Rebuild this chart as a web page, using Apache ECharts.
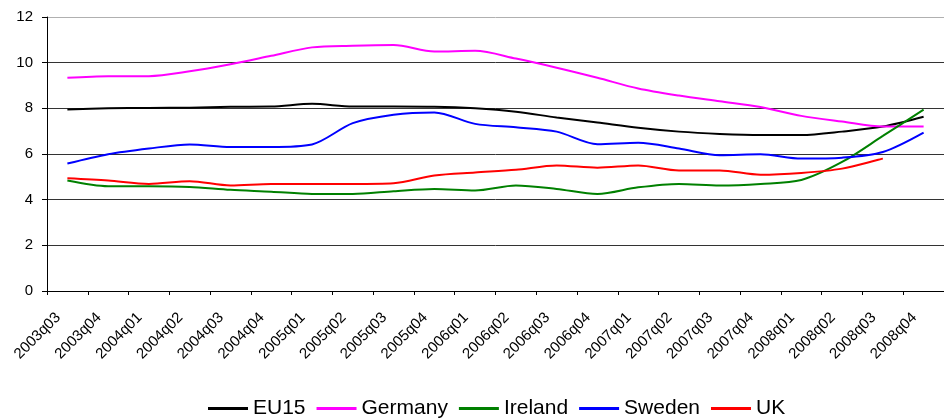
<!DOCTYPE html>
<html>
<head>
	<meta charset="UTF-8">
	<script type="text/javascript" src="https://cdn.jsdelivr.net/npm/echarts@6/dist/echarts.min.js"></script>
	<title></title>
	<style type="text/css">
		html, body{
			margin:0;
			padding:0;
			background:#fff;
		}
		#chart_box{
			width:944px;
			height:420px;
		}
	</style>
</head>
<body>
<div id="chart_box"></div>
<script type="text/javascript">
	// quarters on the x axis
	var quarters = ['2003q03','2003q04','2004q01','2004q02','2004q03','2004q04','2005q01','2005q02',
		'2005q03','2005q04','2006q01','2006q02','2006q03','2006q04','2007q01','2007q02',
		'2007q03','2007q04','2008q01','2008q02','2008q03','2008q04'];
	var eu15    = [7.95, 8.0, 8.02, 8.03, 8.07, 8.08, 8.2, 8.08, 8.08, 8.07, 8.0, 7.85, 7.6, 7.38, 7.15, 6.98, 6.88, 6.83, 6.83, 6.98, 7.2, 7.63];
	var germany = [9.34, 9.41, 9.41, 9.62, 9.93, 10.3, 10.67, 10.74, 10.77, 10.49, 10.52, 10.18, 9.78, 9.34, 8.87, 8.56, 8.31, 8.06, 7.67, 7.42, 7.2, 7.2];
	var ireland = [4.84, 4.59, 4.59, 4.56, 4.43, 4.35, 4.25, 4.25, 4.37, 4.47, 4.4, 4.62, 4.47, 4.25, 4.54, 4.69, 4.62, 4.69, 4.86, 5.65, 6.79, 7.94];
	var sweden  = [5.58, 5.99, 6.24, 6.42, 6.31, 6.31, 6.42, 7.35, 7.72, 7.82, 7.32, 7.17, 6.98, 6.43, 6.49, 6.24, 5.95, 5.99, 5.8, 5.84, 6.09, 6.94];
	var uk      = [4.94, 4.84, 4.69, 4.81, 4.62, 4.69, 4.69, 4.69, 4.72, 5.06, 5.19, 5.31, 5.5, 5.4, 5.5, 5.28, 5.28, 5.09, 5.17, 5.36, 5.8, null];
	var yTicks  = [0, 2, 4, 6, 8, 10, 12];

	var fontName = '"Liberation Sans", Arial, sans-serif';

	var chart = echarts.init(document.getElementById('chart_box'));

	function makeLine(name, color, data){
		return {
			name: name,
			type: 'line',
			data: data,
			smooth: 0.3,
			showSymbol: false,
			symbol: 'none',
			connectNulls: false,
			lineStyle: {color: color, width: 2},
			itemStyle: {color: color},
			emphasis: {disabled: true}
		};
	}

	var option = {
		animation: false,
		textStyle: {fontFamily: fontName},
		grid: {left: 47, top: 17, right: -5, bottom: 129, containLabel: false},
		legend: {
			top: 398,
			left: 208,
			padding: 0,
			itemWidth: 40,
			itemHeight: 3,
			itemGap: 11,
			icon: 'rect',
			textStyle: {fontSize: 21, color: '#000', fontFamily: fontName},
			data: ['EU15', 'Germany', 'Ireland', 'Sweden', 'UK']
		},
		xAxis: {
			type: 'category',
			data: quarters,
			boundaryGap: true,
			axisLine: {lineStyle: {color: '#000', width: 1}},
			axisTick: {show: true, length: 4, lineStyle: {color: '#000'}},
			axisLabel: {interval: 0, rotate: 45, fontSize: 15, color: '#000', margin: 15,
				padding: [0, 13, 0, 0], fontFamily: fontName}
		},
		yAxis: {
			type: 'value',
			min: yTicks[0],
			max: yTicks[yTicks.length - 1],
			interval: 2,
			axisLine: {show: true, lineStyle: {color: '#000', width: 1}},
			axisTick: {show: true, length: 5, lineStyle: {color: '#000'}},
			axisLabel: {fontSize: 15, color: '#000', margin: 14, fontFamily: fontName},
			splitLine: {show: true, lineStyle: {color: ['#000', '#333', '#333', '#333', '#333', '#333', '#b0b0b0'], width: 1}}
		},
		series: [
			makeLine('EU15', '#000000', eu15),
			makeLine('Germany', '#ff00ff', germany),
			makeLine('Ireland', '#008000', ireland),
			makeLine('Sweden', '#0000ff', sweden),
			makeLine('UK', '#ff0000', uk)
		]
	};
	chart.setOption(option);
</script>
</body>
</html>
